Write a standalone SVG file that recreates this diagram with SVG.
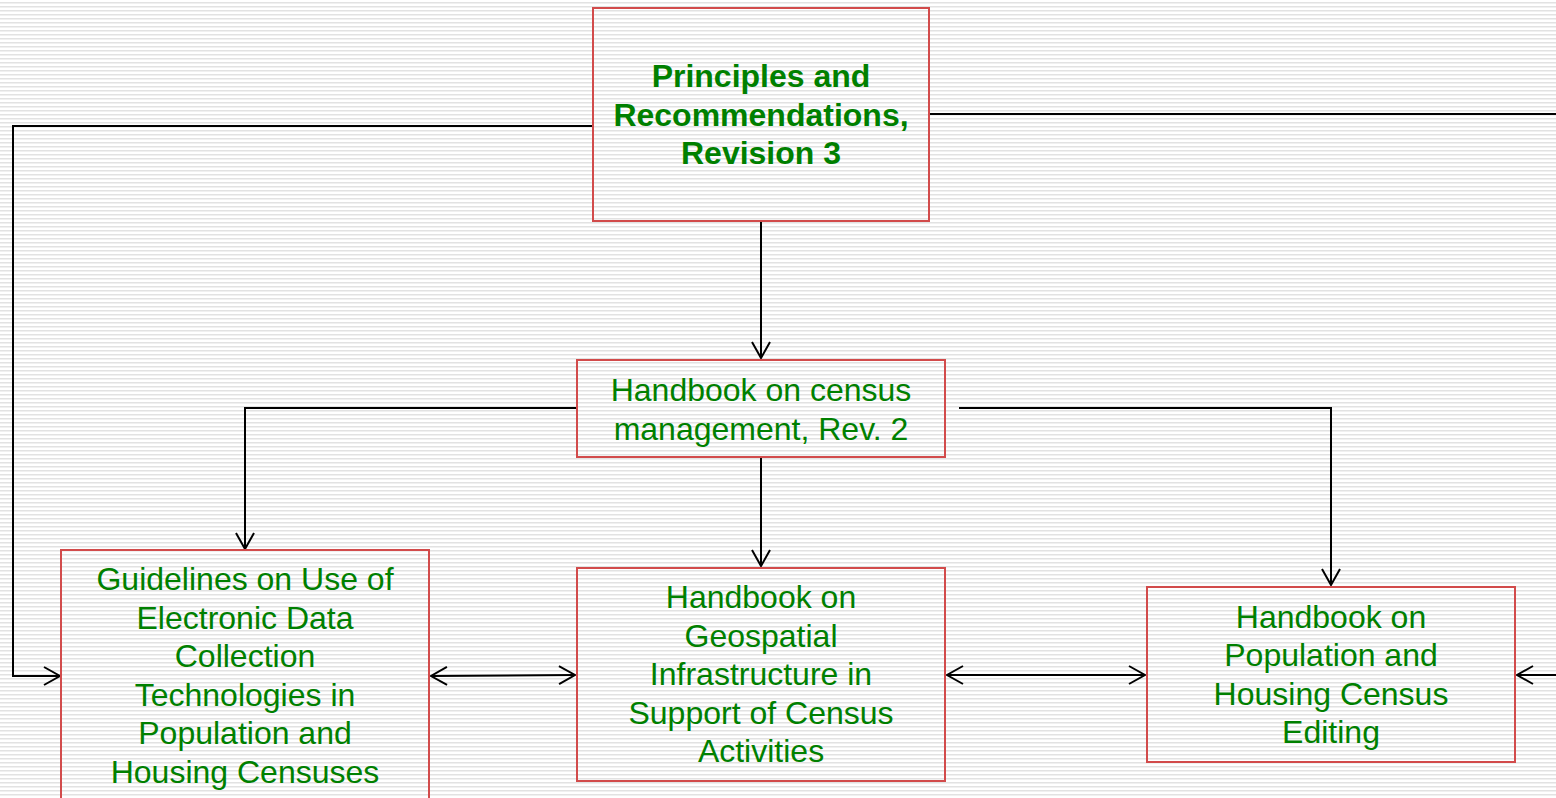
<svg xmlns="http://www.w3.org/2000/svg" width="1556" height="798" viewBox="0 0 1556 798">
<defs>
<pattern id="stripes" x="0" y="0" width="8" height="4" patternUnits="userSpaceOnUse">
<rect x="0" y="0" width="8" height="4" fill="#ffffff"/>
<rect x="0" y="2" width="8" height="1.5" fill="#e2e2e2"/>
</pattern>
<marker id="arr" viewBox="0 0 20 20" refX="18" refY="10" markerWidth="20" markerHeight="20" markerUnits="userSpaceOnUse" orient="auto-start-reverse">
<path d="M2,1 L18,10 L2,19" fill="none" stroke="#000" stroke-width="2"/>
</marker>
<style>
.box { fill: none; stroke: #d24b4b; stroke-width: 2; }
.t { font-family: "Liberation Sans", Arial, sans-serif; font-size: 32px; fill: #008000; text-anchor: middle; }
.b { font-weight: bold; }
.c { fill: none; stroke: #000; stroke-width: 2; }
</style>
</defs>
<rect x="0" y="0" width="1556" height="798" fill="url(#stripes)"/>

<g id="connectors">
<polyline class="c" points="593,126 13,126 13,676 60,676" marker-end="url(#arr)"/>
<line class="c" x1="929" y1="114" x2="1556" y2="114"/>
<line class="c" x1="761" y1="221" x2="761" y2="358" marker-end="url(#arr)"/>
<polyline class="c" points="577,408 245,408 245,549" marker-end="url(#arr)"/>
<polyline class="c" points="959,408 1331,408 1331,585" marker-end="url(#arr)"/>
<line class="c" x1="761" y1="457" x2="761" y2="566" marker-end="url(#arr)"/>
<line class="c" x1="431" y1="676" x2="575" y2="675" marker-start="url(#arr)" marker-end="url(#arr)"/>
<line class="c" x1="947" y1="675" x2="1145" y2="675" marker-start="url(#arr)" marker-end="url(#arr)"/>
<line class="c" x1="1556" y1="675" x2="1517" y2="675" marker-end="url(#arr)"/>
</g>

<g id="principles">
<rect class="box" x="593" y="8" width="336" height="213"/>
<text class="t b" x="761" y="87">Principles and</text>
<text class="t b" x="761" y="126">Recommendations,</text>
<text class="t b" x="761" y="164">Revision 3</text>
</g>

<g id="census-management">
<rect class="box" x="577" y="360" width="368" height="97"/>
<text class="t" x="761" y="401">Handbook on census</text>
<text class="t" x="761" y="440">management, Rev. 2</text>
</g>

<g id="guidelines">
<rect class="box" x="61" y="550" width="368" height="260"/>
<text class="t" x="245" y="590">Guidelines on Use of</text>
<text class="t" x="245" y="628.5">Electronic Data</text>
<text class="t" x="245" y="667">Collection</text>
<text class="t" x="245" y="705.5">Technologies in</text>
<text class="t" x="245" y="744">Population and</text>
<text class="t" x="245" y="782.5">Housing Censuses</text>
</g>

<g id="geospatial">
<rect class="box" x="577" y="568" width="368" height="213"/>
<text class="t" x="761" y="608">Handbook on</text>
<text class="t" x="761" y="646.5">Geospatial</text>
<text class="t" x="761" y="685">Infrastructure in</text>
<text class="t" x="761" y="723.5">Support of Census</text>
<text class="t" x="761" y="762">Activities</text>
</g>

<g id="editing">
<rect class="box" x="1147" y="587" width="368" height="175"/>
<text class="t" x="1331" y="627.5">Handbook on</text>
<text class="t" x="1331" y="666">Population and</text>
<text class="t" x="1331" y="704.5">Housing Census</text>
<text class="t" x="1331" y="743">Editing</text>
</g>
</svg>
